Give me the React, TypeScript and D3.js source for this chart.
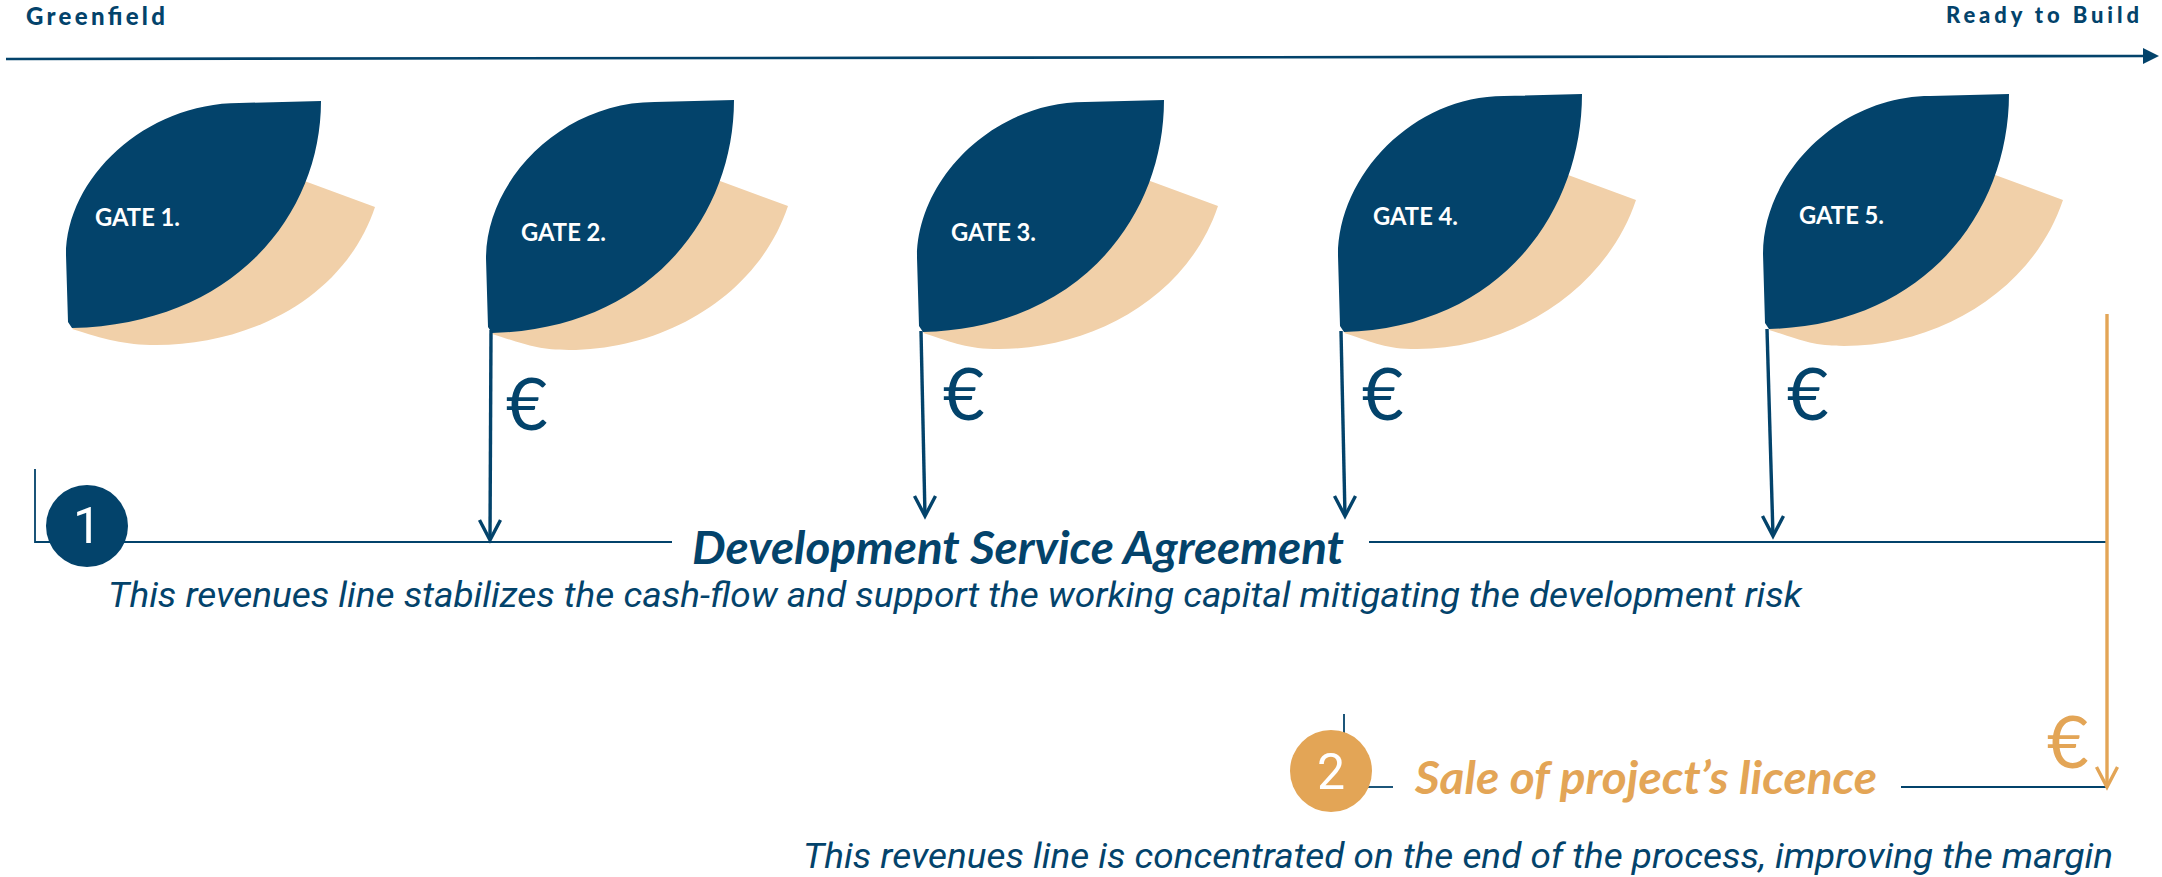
import React from "react";
import * as d3 from "d3";

const WIDTH = 2162;
const HEIGHT = 877;

const NAVY = "#03436b";
const ORANGE = "#e3a556";
const TAN = "#f1d0a9";

// chart content
const stageLabels = ["Greenfield", "Ready to Build"];
const gateLabels = ["GATE 1.", "GATE 2.", "GATE 3.", "GATE 4.", "GATE 5."];
const paidGates = ["GATE 2.", "GATE 3.", "GATE 4.", "GATE 5."];
const revenueTitles = ["Development Service Agreement", "Sale of project\u2019s licence"];
const revenueNotes = [
  "This revenues line stabilizes the cash-flow and support the working capital mitigating the development risk",
  "This revenues line is concentrated on the end of the process, improving the margin",
];

// layout of the diagram, in picture pixels
const leafLayout = [
  { tipX: 321, tipY: 101, leftX: 66, bottomY: 328, labelX: 95, labelY: 226 },
  { tipX: 734, tipY: 100, leftX: 486, bottomY: 333, labelX: 521, labelY: 241 },
  { tipX: 1164, tipY: 100, leftX: 917, bottomY: 332, labelX: 951, labelY: 241 },
  { tipX: 1582, tipY: 94, leftX: 1338, bottomY: 332, labelX: 1373, labelY: 225 },
  { tipX: 2009, tipY: 94, leftX: 1763, bottomY: 329, labelX: 1799, labelY: 224 },
];
const paymentLayout = [
  { x0: 491, y0: 330, x1: 490, y1: 540, euroX: 506, euroY: 430 },
  { x0: 921, y0: 331, x1: 925, y1: 516, euroX: 943, euroY: 420 },
  { x0: 1341, y0: 331, x1: 1345, y1: 516, euroX: 1362, euroY: 420 },
  { x0: 1767, y0: 329, x1: 1773, y1: 536, euroX: 1787, euroY: 420 },
];

type Leaf = (typeof leafLayout)[number];

function leafPath({ tipX, tipY, leftX, bottomY }: Leaf) {
  const w = tipX - leftX;
  const h = bottomY - tipY;
  const p = d3.path();
  p.moveTo(tipX, tipY);
  p.lineTo(tipX - w * 0.32, tipY + 2);
  p.bezierCurveTo(tipX - w * 0.69, tipY + 2, leftX, tipY + h * 0.34, leftX, tipY + h * 0.68);
  p.lineTo(leftX + 2, bottomY - 6);
  p.lineTo(leftX + 6, bottomY);
  p.bezierCurveTo(leftX + w * 0.66, bottomY - 4, tipX, tipY + h * 0.5, tipX, tipY);
  p.closePath();
  return p.toString();
}

function backPath({ tipX, tipY, leftX, bottomY }: Leaf) {
  const startX = leftX + 6;
  const bowlX = tipX - 165;
  const bowlY = bottomY + 17;
  const p = d3.path();
  p.moveTo(tipX - 60, tipY + 64);
  p.lineTo(tipX + 54, tipY + 106);
  p.bezierCurveTo(tipX + 24, tipY + 196, tipX - 70, bowlY, bowlX, bowlY);
  p.bezierCurveTo(bowlX - 32, bowlY, startX + 32, bowlY - 6, startX, bottomY + 1);
  p.closePath();
  return p.toString();
}

function linePath(points: [number, number][]) {
  return d3.line()(points) ?? "";
}

function Arrow({ x0, y0, x1, y1, color, width = 3.4 }: { x0: number; y0: number; x1: number; y1: number; color: string; width?: number }) {
  return (
    <g fill="none" stroke={color} strokeWidth={width}>
      <path d={linePath([[x0, y0], [x1, y1]])} />
      <path d={linePath([[x1 - 10.5, y1 - 20], [x1, y1], [x1 + 10.5, y1 - 20]])} />
    </g>
  );
}

const calibri = "Lato, Carlito, sans-serif";
const aptos = "Roboto, 'Open Sans', sans-serif";

export default function App() {
  return (
    <svg
      width={WIDTH}
      height={HEIGHT}
      viewBox={`0 0 ${WIDTH} ${HEIGHT}`}
      style={{ position: "absolute", left: 0, top: 0, display: "block", background: "#fff" }}
    >
      {/* process axis */}
      <text x={26} y={25} fontFamily={calibri} fontWeight={900} fontSize={24} fill={NAVY} textLength={139}>
        {stageLabels[0]}
      </text>
      <text x={1946} y={23} fontFamily={calibri} fontWeight={900} fontSize={22} fill={NAVY} textLength={193}>
        {stageLabels[1]}
      </text>
      <path d={linePath([[6, 59], [2146, 56]])} stroke={NAVY} strokeWidth={2.6} fill="none" />
      <path d={(d3.line()([[2143, 48], [2159, 56], [2143, 64]]) ?? "") + "Z"} fill={NAVY} />

      {/* gates */}
      {leafLayout.map((leaf, i) => (
        <g key={gateLabels[i]}>
          <path d={backPath(leaf)} fill={TAN} />
          <path d={leafPath(leaf)} fill={NAVY} />
          <text x={leaf.labelX} y={leaf.labelY} fontFamily={calibri} fontWeight={700} fontSize={24} fill="#fff" textLength={85} lengthAdjust="spacingAndGlyphs">
            {gateLabels[i]}
          </text>
        </g>
      ))}

      {/* first revenue line */}
      <path
        d={linePath([[35, 469], [35, 542], [672, 542]])}
        stroke={NAVY}
        strokeWidth={1.8}
        fill="none"
      />
      <path d={linePath([[1369, 542], [2107, 542]])} stroke={NAVY} strokeWidth={1.8} fill="none" />
      {paidGates.map((gate, i) => {
        const a = paymentLayout[i];
        return (
          <g key={gate}>
            <Arrow x0={a.x0} y0={a.y0} x1={a.x1} y1={a.y1} color={NAVY} />
            <text x={a.euroX} y={a.euroY} fontFamily={calibri} fontSize={72} fill={NAVY}>
              €
            </text>
          </g>
        );
      })}
      <circle cx={87} cy={526} r={41} fill={NAVY} />
      <text x={87} y={543} textAnchor="middle" fontFamily={aptos} fontSize={50} fill="#fff">
        1
      </text>
      <text x={692} y={564} fontFamily={calibri} fontWeight={700} fontStyle="italic" fontSize={45} fill={NAVY} textLength={652} lengthAdjust="spacingAndGlyphs">
        {revenueTitles[0]}
      </text>
      <text x={108} y={607} fontFamily={aptos} fontStyle="italic" fontSize={35} fill={NAVY} textLength={1694} lengthAdjust="spacingAndGlyphs">
        {revenueNotes[0]}
      </text>

      {/* second revenue line */}
      <path d={linePath([[1344, 714], [1344, 735]])} stroke={NAVY} strokeWidth={1.8} fill="none" />
      <path d={linePath([[1365, 787], [1393, 787]])} stroke={NAVY} strokeWidth={1.8} fill="none" />
      <path d={linePath([[1901, 787], [2107, 787]])} stroke={NAVY} strokeWidth={1.8} fill="none" />
      <Arrow x0={2107} y0={314} x1={2107} y1={787} color={ORANGE} />
      <text x={2047} y={768} fontFamily={calibri} fontSize={72} fill={ORANGE}>
        €
      </text>
      <circle cx={1331} cy={771} r={41} fill={ORANGE} />
      <text x={1331} y={789} textAnchor="middle" fontFamily={aptos} fontSize={50} fill="#fff">
        2
      </text>
      <text x={1415} y={794} fontFamily={calibri} fontWeight={700} fontStyle="italic" fontSize={45} fill={ORANGE} textLength={462} lengthAdjust="spacingAndGlyphs">
        {revenueTitles[1]}
      </text>
      <text x={803} y={868} fontFamily={aptos} fontStyle="italic" fontSize={35} fill={NAVY} textLength={1310} lengthAdjust="spacingAndGlyphs">
        {revenueNotes[1]}
      </text>
    </svg>
  );
}
